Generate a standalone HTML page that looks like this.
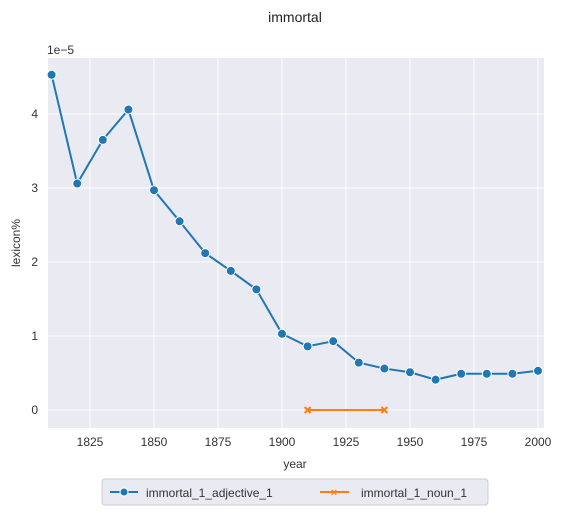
<!DOCTYPE html>
<html><head><meta charset="utf-8"><style>
body{margin:0;background:#fff;font-family:"Liberation Sans","DejaVu Sans",sans-serif;}
</style></head><body>
<svg width="563" height="515" xmlns="http://www.w3.org/2000/svg" font-family="Liberation Sans, DejaVu Sans, sans-serif">
<text x="295" y="22" text-anchor="middle" font-size="14" fill="#222">immortal</text>
<rect x="48" y="58" width="496" height="370" fill="#eaeaf2"/>
<g id="grid"></g><g id="ticks"></g><g id="series"></g>
<text x="47" y="54" font-size="12" fill="#333">1e−5</text>
<text x="295" y="468" text-anchor="middle" font-size="12" fill="#333">year</text>
<text transform="translate(20,243) rotate(-90)" text-anchor="middle" font-size="12" fill="#333">lexicon%</text>
<g>
<rect x="102" y="479" width="386" height="26" rx="3" fill="#eaeaf2" stroke="#ccc"/>
<g><line x1="110" y1="492" x2="138" y2="492" stroke="#1f77b4" stroke-width="2"/><circle cx="124" cy="492" r="4" fill="#1f77b4" stroke="#fff" stroke-width="1"/><text x="146" y="497" font-size="12" fill="#333">immortal_1_adjective_1</text></g>
<g><line x1="320" y1="492" x2="349" y2="492" stroke="#ff7f0e" stroke-width="2"/><text x="334" y="496" text-anchor="middle" font-size="11" fill="#ff7f0e" font-weight="bold">×</text><text x="361" y="497" font-size="12" fill="#333">immortal_1_noun_1</text></g>
</g>
</svg>
<script>
const years=[1810,1820,1830,1840,1850,1860,1870,1880,1890,1900,1910,1920,1930,1940,1950,1960,1970,1980,1990,2000];
const adjValues=[4.53,3.06,3.65,4.06,2.97,2.55,2.12,1.88,1.63,1.03,0.86,0.93,0.64,0.56,0.51,0.41,0.49,0.49,0.49,0.53];
const nounYears=[1910,1940];
const nounValues=[0,0];
const xTicks=[1825,1850,1875,1900,1925,1950,1975,2000];
const yTicks=[0,1,2,3,4];
const NS="http://www.w3.org/2000/svg";
const X=v=>282+(v-1900)*2.56;
const Y=v=>410-v*74;
function mk(t,a,p){const e=document.createElementNS(NS,t);for(const k in a)e.setAttribute(k,a[k]);p.appendChild(e);return e;}
const grid=document.getElementById('grid'),ticks=document.getElementById('ticks'),ser=document.getElementById('series');
xTicks.forEach(t=>{const l=mk('line',{x1:X(t),x2:X(t),y1:58,y2:428,stroke:'#fff','stroke-width':1},grid);

const tx=mk('text',{x:X(t),y:446,'text-anchor':'middle','font-size':12,fill:'#333'},ticks);tx.textContent=t;
});
yTicks.forEach(t=>{const l=mk('line',{x1:48,x2:544,y1:Y(t),y2:Y(t),stroke:'#fff','stroke-width':1},grid);

const tx=mk('text',{x:38,y:Y(t)+4,'text-anchor':'end','font-size':12,fill:'#333'},ticks);tx.textContent=t;
});
const p=mk('polyline',{points:years.map((y,i)=>X(y)+','+Y(adjValues[i])).join(' '),fill:'none',stroke:'#1f77b4','stroke-width':2},ser);

years.forEach((y,i)=>{const c=mk('circle',{cx:X(y),cy:Y(adjValues[i]),r:4.5,fill:'#1f77b4',stroke:'#fff','stroke-width':1},ser);
});
const n=mk('polyline',{points:nounYears.map((y,i)=>X(y)+','+Y(nounValues[i])).join(' '),fill:'none',stroke:'#ff7f0e','stroke-width':2},ser);

nounYears.forEach((y,i)=>{const cx=X(y),cy=Y(nounValues[i]);const g=mk('path',{d:`M${cx-3},${cy-3}L${cx+3},${cy+3}M${cx-3},${cy+3}L${cx+3},${cy-3}`,stroke:'#ff7f0e','stroke-width':2},ser);
});
</script>
</body></html>
